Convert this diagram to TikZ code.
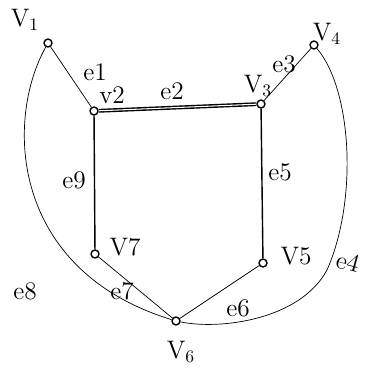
\documentclass[tikz,border=0pt]{standalone}
\begin{document}
\begin{tikzpicture}[x=0.02cm,y=-0.02cm]
\tikzstyle{v}=[draw,circle,inner sep=1.6pt,thick]
\tikzstyle{lab}=[font=\Large]
\useasboundingbox (0,0) rectangle (369,372);
\node[v] (V1) at (48,43) {};
\node[v] (V2) at (94,111) {};
\node[v] (V3) at (261,104) {};
\node[v] (V4) at (314,45) {};
\node[v] (V5) at (263,263) {};
\node[v] (V6) at (176,321) {};
\node[v] (V7) at (95,254) {};
\draw (V1) -- (V2);
\draw[thick,double distance=0.6pt] (V2) -- (V3);
\draw (V3) -- (V4);
\draw[thick] (V2) -- (V7) (V3) -- (V5);
\draw (V5) -- (V6) (V7) -- (V6);
\draw (V4) .. controls (352,90) and (358,200) .. (327,270) .. controls (300,320) and (220,330) .. (V6);
\draw (V1) .. controls (5,120) and (10,270) .. (V6);
\node[lab] (l1) at (25,20) {V\textsubscript{1}};
\node[lab] (l2) at (112,95) {v2};
\node[lab] (l3) at (258,86) {V\textsubscript{3}};
\node[lab] (l4) at (327,34) {V\textsubscript{4}};
\node[lab] (l5) at (296,256) {V5};
\node[lab] (l6) at (181,352) {V\textsubscript{6}};
\node[lab] (l7) at (125,247) {V7};
\node[lab] (e1) at (95,72) {e1};
\node[lab] (e2) at (172,91) {e2};
\node[lab] (e3) at (284,64) {e3};
\node[lab,rotate=-15] (e4) at (348,262) {e4};
\node[lab] (e5) at (280,172) {e5};
\node[lab] (e6) at (238,308) {e6};
\node[lab] (e7) at (122,291) {e7};
\node[lab] (e8) at (25,291) {e8};
\node[lab] (e9) at (74,180) {e9};
\end{tikzpicture}
\end{document}
